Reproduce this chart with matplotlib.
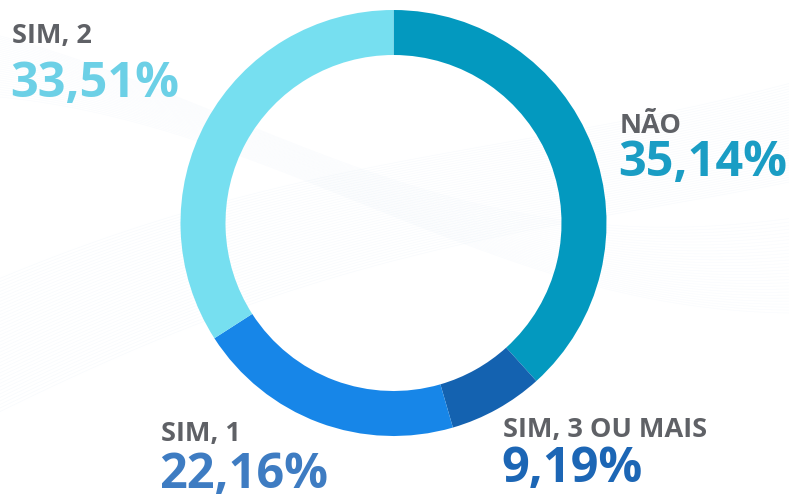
import numpy as np
import matplotlib.pyplot as plt

# data
categories = ["NÃO", "SIM, 3 OU MAIS", "SIM, 1", "SIM, 2"]
# arc shares as drawn in the picture (clockwise from top)
arc_shares = [38.3, 7.2, 20.4, 34.1]
value_labels = ["35,14%", "9,19%", "22,16%", "33,51%"]

slice_colors = ["#0399bf", "#1462b0", "#1786e8", "#76dff0"]
value_colors = ["#1a9dc4", "#1c66b5", "#3e7cc2", "#6cd0e6"]
label_grey = "#5f6166"

W, H = 789, 497
fig = plt.figure(figsize=(W / 100, H / 100), dpi=100)
fig.patch.set_facecolor("#ffffff")
ax = fig.add_axes([0, 0, 1, 1])

# faint decorative background waves
xs = np.linspace(0, W, 300)
for k in range(40):
    ys = 60 + k * 3.0 + 45 * np.sin(xs / 260 + 0.6 + k * 0.015) + xs * 0.35
    ax.plot(xs, ys, color="#dce9f6", lw=0.4, alpha=0.25, zorder=0)
for k in range(30):
    ys = 330 + k * 2.5 + 70 * np.cos(xs / 230 + k * 0.02) - xs * 0.1
    ax.plot(xs, ys, color="#e0ecf7", lw=0.4, alpha=0.2, zorder=0)

# donut
cx, cy = 393.5, H - 223
r_out, r_in = 213, 168
ax.pie(arc_shares, colors=slice_colors, startangle=90, counterclock=False,
       center=(cx, cy), radius=r_out, frame=True,
       wedgeprops=dict(width=r_out - r_in, edgecolor="none", linewidth=0))
ax.set_xlim(0, W)
ax.set_ylim(0, H)
ax.set_aspect("equal")
ax.axis("off")

# text labels (x, label baseline y, value baseline y) in pixel coords from top
positions = [(620, 133, 176), (503, 437, 482), (161, 441, 488), (12, 43, 97)]
font = ["Open Sans", "DejaVu Sans"]
for cat, val, col, (x, yl, yv) in zip(categories, value_labels, value_colors, positions):
    ax.text(x, H - yl, cat, fontsize=19.5, fontweight="bold", color=label_grey,
            family=font, ha="left", va="baseline")
    ax.text(x - 2, H - yv, val, fontsize=35, fontweight="bold", color=col,
            family=font, ha="left", va="baseline")

fig.savefig("out.png", dpi=100)
